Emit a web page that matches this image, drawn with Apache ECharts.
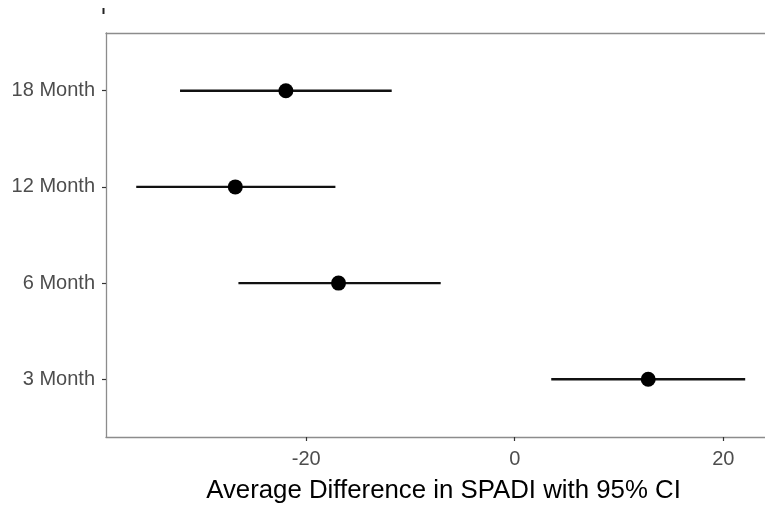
<!DOCTYPE html>
<html>
<head>
<meta charset="utf-8">
<script src="https://cdn.jsdelivr.net/npm/echarts@6/dist/echarts.min.js"></script>
<style>
html,body{margin:0;padding:0;background:#fff;}
#chart{width:765px;height:508px;}
</style>
</head>
<body>
<div id="chart"></div>
<script>
const categories = ['3 Month', '6 Month', '12 Month', '18 Month'];
const estimates = [12.8, -16.9, -26.8, -21.95];
const lower = [3.5, -26.5, -36.3, -32.1];
const upper = [22.1, -7.1, -17.2, -11.8];
const xTicks = [-20, 0, 20];
const yTicks = [1, 2, 3, 4];

const chart = echarts.init(document.getElementById('chart'), null, {renderer: 'canvas'});
const font = 'Liberation Sans, Arial, sans-serif';
const borderStyle = {color: '#8c8c8c', width: 1.3};

const ciData = categories.map((c, i) => [lower[i], upper[i], i + 1]);
const ptData = categories.map((c, i) => [estimates[i], i + 1]);

chart.setOption({
  animation: false,
  backgroundColor: '#fff',
  grid: {left: 106, top: 33, right: 0, bottom: 71, show: false, outerBoundsMode: 'none', containLabel: false},
  xAxis: [{
    type: 'value', min: -39.2, max: 24.0, position: 'bottom',
    name: 'Average Difference in SPADI with 95% CI',
    nameLocation: 'middle', nameGap: 41,
    nameTextStyle: {color: '#000', fontSize: 25.8, fontFamily: font, padding: [0, 0, 0, 16]},
    axisLine: {show: true, onZero: false, lineStyle: borderStyle},
    splitLine: {show: false},
    axisTick: {show: true, length: 4, lineStyle: {color: '#333', width: 1.2}, customValues: xTicks},
    axisLabel: {color: '#4d4d4d', fontSize: 20, fontFamily: font, margin: 12, customValues: xTicks}
  }, {
    type: 'value', min: -39.2, max: 24.0, position: 'top',
    axisLine: {show: true, onZero: false, lineStyle: borderStyle},
    splitLine: {show: false}, axisTick: {show: false}, axisLabel: {show: false}
  }],
  yAxis: {
    type: 'value', min: 0.4, max: 4.6,
    axisLine: {show: true, onZero: false, lineStyle: borderStyle},
    splitLine: {show: false},
    axisTick: {show: true, length: 4, lineStyle: {color: '#333', width: 1.2}, customValues: yTicks},
    axisLabel: {color: '#4d4d4d', fontSize: 20, fontFamily: font, margin: 11, customValues: yTicks,
      formatter: v => categories[Math.round(v) - 1] || ''}
  },
  graphic: [{type: 'rect', shape: {x: 102.5, y: 8, width: 2, height: 6}, style: {fill: '#222'}}],
  series: [
    {
      type: 'custom',
      data: ciData,
      encode: {x: [0, 1], y: 2},
      renderItem: function (params, api) {
        const p1 = api.coord([api.value(0), api.value(2)]);
        const p2 = api.coord([api.value(1), api.value(2)]);
        return {type: 'line', shape: {x1: p1[0], y1: p1[1], x2: p2[0], y2: p2[1]},
          style: {stroke: '#111', lineWidth: 2.4}};
      },
      z: 2
    },
    {
      type: 'scatter',
      data: ptData,
      symbol: 'circle',
      symbolSize: 15,
      itemStyle: {color: '#000', opacity: 1},
      z: 3
    }
  ]
});
</script>
</body>
</html>
